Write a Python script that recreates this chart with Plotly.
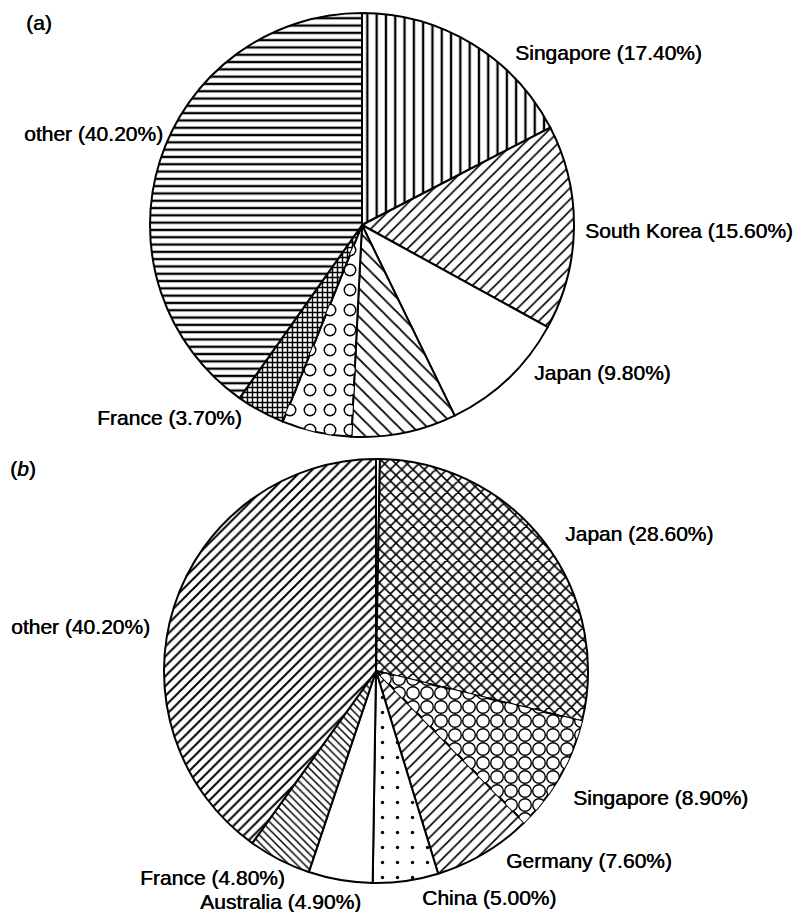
import plotly.graph_objects as go

W, H = 798, 912

# Panel (a): shares, clockwise from 12 o'clock
a_names = ["Singapore", "South Korea", "Japan", "", "", "France", "other"]
a_values = [17.4, 15.6, 9.8, 8.0, 5.3, 3.7, 40.2]

# Panel (b): shares, clockwise from 12 o'clock
b_names = ["", "Japan", "Singapore", "Germany", "China", "Australia", "France", "other"]
b_values = [0.3, 28.6, 8.9, 7.6, 5.0, 4.9, 4.8, 40.2]

FONT = "Liberation Sans, Arial, Helvetica, sans-serif"
CLEAR = "rgba(0,0,0,0)"


def px_domain(cx, cy, r):
    return dict(x=[(cx - r) / W, (cx + r) / W],
                y=[1 - (cy + r) / H, 1 - (cy - r) / H])


def pie(values, domain, shapes, sizes, solidity, fg, bg, colors=None,
        line_w=2.0, line_c="black"):
    n = len(values)
    return go.Pie(
        values=values,
        sort=False,
        direction="clockwise",
        rotation=0,
        domain=domain,
        textinfo="none",
        hoverinfo="skip",
        showlegend=False,
        marker=dict(
            colors=colors or ["white"] * n,
            line=dict(color=line_c, width=line_w),
            pattern=dict(shape=shapes, size=sizes, solidity=solidity,
                         fgcolor=fg, bgcolor=bg, fillmode="replace"),
        ),
    )


def ring_overlay(values, domain, idx, size, solidity):
    """Transparent copy of a pie that punches white holes into the dots of one slice."""
    n = len(values)
    shapes = [""] * n
    shapes[idx] = "."
    fg = [CLEAR] * n
    fg[idx] = "white"
    return pie(values, domain, shapes=shapes, sizes=[size] * n,
               solidity=[solidity] * n, fg=fg, bg=[CLEAR] * n,
               colors=[CLEAR] * n, line_w=0, line_c=CLEAR)


dom_a = px_domain(362, 225, 212)
dom_b = px_domain(376, 671, 212)

na, nb = len(a_values), len(b_values)

fig = go.Figure()

# (a) hatched slices
fig.add_trace(pie(
    a_values, dom_a,
    shapes=["|", "/", "", "\\", ".", "+", "-"],
    sizes=[9.3, 8, 8, 10, 20, 5, 7.3],
    solidity=[0.25, 0.2, 0.3, 0.18, 0.33, 0.5, 0.32],
    fg=["black"] * na, bg=["white"] * na,
))
fig.add_trace(ring_overlay(a_values, dom_a, 4, 20, 0.2))

# (b) hatched slices
fig.add_trace(pie(
    b_values, dom_b,
    shapes=["", "x", ".", "/", ".", "", "\\", "/"],
    sizes=[8, 8, 14, 8, 15, 8, 5.5, 7],
    solidity=[0.3, 0.36, 0.78, 0.2, 0.04, 0.3, 0.27, 0.28],
    fg=["black"] * nb, bg=["white"] * nb,
))
fig.add_trace(ring_overlay(b_values, dom_b, 2, 14, 0.5))

# label anchors (left edge, vertical centre) in pixels
a_label_pos = {"Singapore": (513, 53), "South Korea": (583, 230), "Japan": (532, 372),
               "France": (95, 417), "other": (22, 133)}
b_label_pos = {"Japan": (563, 533), "Singapore": (571, 797), "Germany": (504, 860),
               "China": (420, 897), "Australia": (198, 901), "France": (138, 877),
               "other": (9, 626)}

annotations = []


def add_text(text, x, y):
    annotations.append(dict(
        text=text, x=x / W, y=1 - y / H, xref="paper", yref="paper",
        xanchor="left", yanchor="middle", showarrow=False,
        font=dict(family=FONT, size=21, color="black",
                  shadow="0.5px 0px 0px black"),
    ))


for name, val in zip(a_names, a_values):
    if name:
        x, y = a_label_pos[name]
        add_text(f"{name} ({val:.2f}%)", x, y)
for name, val in zip(b_names, b_values):
    if name:
        x, y = b_label_pos[name]
        add_text(f"{name} ({val:.2f}%)", x, y)

add_text("(a)", 24, 22)
add_text("(<i>b</i>)", 8, 468)

fig.update_layout(
    width=W, height=H,
    margin=dict(l=0, r=0, t=0, b=0),
    paper_bgcolor="white", plot_bgcolor="white",
    annotations=annotations,
    showlegend=False,
)

fig.write_html("out.html")
